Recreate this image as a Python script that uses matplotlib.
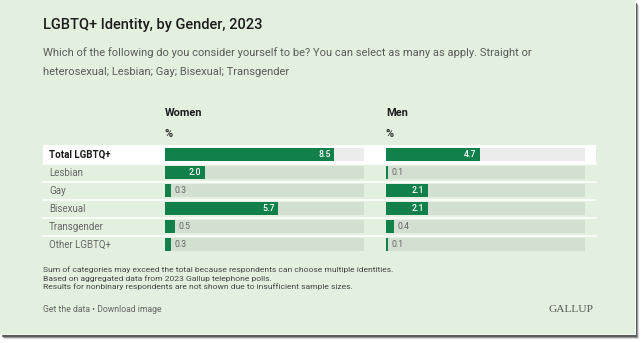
import matplotlib
matplotlib.use("Agg")
import matplotlib.pyplot as plt
from matplotlib.patches import Rectangle

# ---- data -------------------------------------------------------------
CATEGORIES = ["Total LGBTQ+", "Lesbian", "Gay", "Bisexual", "Transgender", "Other LGBTQ+"]
WOMEN = [8.5, 2.0, 0.3, 5.7, 0.5, 0.3]
MEN = [4.7, 0.1, 2.1, 2.1, 0.4, 0.1]
GROUPS = ["Women", "Men"]
XMAX = 10.0

TITLE = "LGBTQ+ Identity, by Gender, 2023"
SUBTITLE = ["Which of the following do you consider yourself to be? You can select as many as apply. Straight or",
            "heterosexual; Lesbian; Gay; Bisexual; Transgender"]
NOTES = ["Sum of categories may exceed the total because respondents can choose multiple identities.",
         "Based on aggregated data from 2023 Gallup telephone polls.",
         "Results for nonbinary respondents are not shown due to insufficient sample sizes."]

# ---- style ------------------------------------------------------------
W, H = 644, 343
PANEL = "#e3f0e0"
TRACK = "#d3dfd1"
TRACK_TOP = "#ececec"
GREEN = "#12804a"
INK = "#1c1c1c"
GREY = "#5a5a5a"

plt.rcParams["font.family"] = ["Roboto", "DejaVu Sans"]

fig = plt.figure(figsize=(W / 100, H / 100), dpi=100)
fig.patch.set_facecolor("white")

bg = fig.add_axes([0, 0, 1, 1])
bg.set_xlim(0, W)
bg.set_ylim(H, 0)
bg.axis("off")

# drop shadow + thin light rim + panel
for k, a in [(4.5, 0.2), (3.5, 0.4), (2.5, 0.7)]:
    bg.add_patch(Rectangle((k, k), 635, 334, color="#404040", alpha=a, lw=0, zorder=0))
bg.add_patch(Rectangle((0, 0), 636, 335, color="#f4f8f3", lw=0, zorder=0.5))
bg.add_patch(Rectangle((0, 0), 635, 334, color=PANEL, lw=0, zorder=1))

ROW0, PITCH = 154.5, 18.0
n = len(CATEGORIES)

# highlighted total row and white row separators
bg.add_patch(Rectangle((43, ROW0 - 9.5), 553, 19, color="white", lw=0, zorder=2))
for i in range(n - 1):
    yy = ROW0 + PITCH * i + 9
    bg.plot([43, 596], [yy, yy], color="white", lw=1.1, zorder=2)

# titles
bg.text(43, 25.5, TITLE, fontsize=10.5, fontweight="medium", color=INK, va="center", zorder=3)
for j, line in enumerate(SUBTITLE):
    bg.text(43, 52.5 + 19.5 * j, line, fontsize=8.05, color=GREY, va="center", zorder=3)

# category labels
for i, cat in enumerate(CATEGORIES):
    bold = i == 0
    bg.text(49, ROW0 + PITCH * i, cat, fontsize=7.0, va="center", zorder=3,
            fontweight="bold" if bold else "normal",
            color=INK if bold else "#666666")

# footnotes
for j, line in enumerate(NOTES):
    bg.text(43, 269.5 + 8.8 * j, line, fontsize=6.1, color="#444444", va="center", zorder=3)
bg.text(43, 309.5, "Get the data \u2022 Download image", fontsize=6.2, color="#666666",
        va="center", zorder=3)
bg.text(594, 309.5, "GALLUP", fontsize=8.2, family="Liberation Serif", color="#555555",
        ha="right", va="center", zorder=3)


def box(x0, y0, x1, y1):
    return [x0 / W, 1 - y1 / H, (x1 - x0) / W, (y1 - y0) / H]


top = ROW0 - PITCH / 2
bottom = ROW0 + PITCH * (n - 0.5)
for name, values, x0 in [(GROUPS[0], WOMEN, 165), (GROUPS[1], MEN, 386)]:
    ax = fig.add_axes(box(x0, top, x0 + 199, bottom))
    ax.patch.set_alpha(0)
    ax.set_xlim(0, XMAX)
    ax.set_ylim(n - 0.5, -0.5)
    ax.axis("off")
    ys = list(range(n))
    ax.barh(ys, [XMAX] * n, height=0.74, color=[TRACK_TOP] + [TRACK] * (n - 1), lw=0)
    ax.barh(ys, values, height=0.74, color=GREEN, lw=0)
    for y, v in zip(ys, values):
        if v >= 1.5:
            ax.annotate(f"{v:.1f}", (v, y), xytext=(-2.5, 0), textcoords="offset points",
                        ha="right", va="center", fontsize=6.3, color="white",
                        fontweight="medium")
        else:
            ax.annotate(f"{v:.1f}", (v, y), xytext=(2.2, 0), textcoords="offset points",
                        ha="left", va="center", fontsize=6.3, color="#666666")
    bg.text(x0, 112.5, name, fontsize=7.9, fontweight="bold", color=INK, va="center", zorder=3)
    bg.text(x0, 134, "%", fontsize=7.9, fontweight="bold", color="#333333", va="center", zorder=3)

fig.savefig("out.png", dpi=100, facecolor="white")
